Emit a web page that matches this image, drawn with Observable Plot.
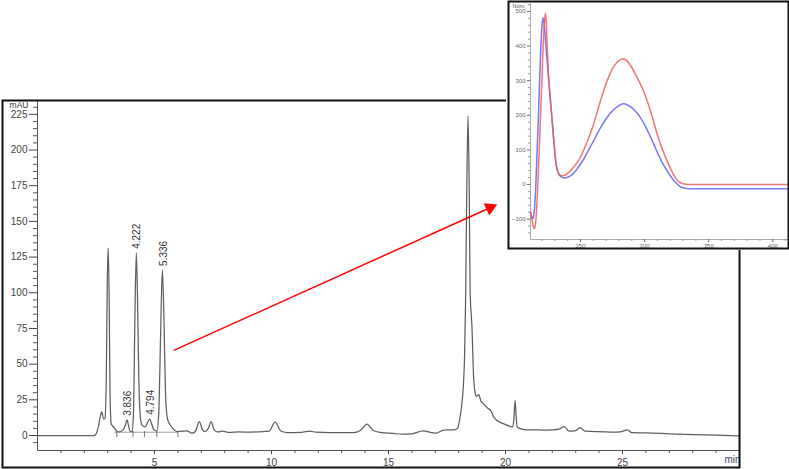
<!DOCTYPE html>
<html>
<head>
<meta charset="utf-8">
<script src="https://cdn.jsdelivr.net/npm/d3@7"></script>
<script src="https://cdn.jsdelivr.net/npm/@observablehq/plot@0.6"></script>
<style>
  html, body { margin: 0; padding: 0; background: #fff; }
  #wrap { position: relative; width: 789px; height: 469px; overflow: hidden; background: #fff; }
  #main { position: absolute; left: 0; top: 0; }
  #inset { position: absolute; left: 506px; top: 0; }
  svg { display: block; }
</style>
</head>
<body>
<div id="wrap"><div id="main"></div><div id="inset"></div></div>
<script>
// ---------- Chromatogram (retention time in min, signal in mAU) ----------
const chromTime = [0,1,2,2.4,2.5,2.6,2.68,2.75,2.82,2.88,2.94,2.98,3.02,3.06,3.1,3.15,3.22,3.3,3.4,3.5,
  3.65,3.75,3.83,3.9,3.97,4.04,4.1,4.16,4.222,4.27,4.33,4.4,4.46,4.6,4.7,4.794,4.88,4.98,5.1,5.18,
  5.26,5.336,5.4,5.47,5.55,5.65,5.75,5.97,6.2,6.38,6.6,6.75,6.92,7.05,7.16,7.3,7.42,7.55,7.7,7.9,
  8.2,8.6,9.0,9.5,9.9,10.15,10.4,10.7,11.2,11.64,11.9,12.5,13,13.5,13.8,14.08,14.35,14.7,15.2,15.62,
  16.0,16.47,16.8,17.04,17.3,17.5,17.8,17.95,18.05,18.12,18.2,18.25,18.3,18.35,18.4,18.45,18.49,18.53,18.57,18.63,
  18.7,18.75,18.86,18.95,19.03,19.2,19.39,19.5,19.6,19.8,20.03,20.31,20.36,20.41,20.46,20.5,20.7,20.88,21.3,21.6,
  22,22.3,22.51,22.72,23,23.19,23.4,23.8,24.2,24.57,24.9,25.21,25.4,26,27,28,29,30];
const chromSignal = [0,0,0,0,1,6,13,16.5,11.5,12,40,105,131.5,100,30,8,6.5,5,2.8,2.5,
  4,7,11,6,2.8,3,15,80,128,100,40,12,7.5,6,9,11.7,8,4,3.3,15,
  70,116,85,30,12,8,5.5,2.8,3,3.3,1.6,3,9.8,4,2.8,5,9.8,4,2.5,3,
  2.2,2.5,2.3,2.6,3,9.4,3.2,2,2.2,3,2.3,2,2,2,3.5,8,3.5,2,1.5,0.9,
  1.2,3.3,2.2,1.6,3.5,3.9,3.9,5,12,20,35,55,100,180,224,170,100,86,75,43,
  30,27.4,28.6,24,22.7,19.7,16.9,13,11,9,7.5,6,12,24.6,12,6,4.5,4,4,3.8,
  4,4.5,6.3,3,3.5,5.6,3,2.8,2.6,2.3,2.5,4,2,1.8,1.2,0.6,0.2,-0.3];

// labelled peaks
const peakTimes = [3.83, 4.222, 4.794, 5.336];
const peakHeights = [11, 128, 11.7, 116];
const peakLabels = ["3.836", "4.222", "4.794", "5.336"];

// integration baseline and peak boundaries
const intBaseStart = 3.3, intBaseEnd = 6.02, intBaseLevel = 2.3;
const intBounds = [3.39, 4.08, 4.57, 5.1, 6.0];

// axis ticks
const yMajor = [0, 25, 50, 75, 100, 125, 150, 175, 200, 225];
const yMinor = d3.range(-5, 231, 5).filter(v => v % 25 !== 0);
const xMajor = [5, 10, 15, 20, 25];
const xMinor = d3.range(1, 30).filter(v => v % 5 !== 0);

// red arrow (time, mAU)
const arrowStart = [5.82, 59.6];
const arrowEnd = [19.34, 159.6];

// ---------- UV spectrum inset (wavelength nm, normalised) ----------
const blueWl = [211,212,213,214,215,216,217,218,219,220,220.9,222,223,224,225,226,227,228,229,230,
  231,232,233,234,236,238,240,244,247.4,252,256,260.3,265,270,275,280,283.5,287,290,
  293,297,300,303,307,311,314,317.5,321,324.5,327.8,331,334.3,413];
const blueVal = [-80,-93,-99,-75,-15,80,180,290,390,460,482,450,400,355,310,268,225,180,135,92,
  58,40,30,25,20,19,21,30,45,70,97,127,160,190,213,228,233,229,222,
  211,192,172,150,118,84,62,40,20,4,-6,-10.5,-12,-12];
const redWl = [211,212,213,214,215,216,217,218,219,220,221,222,222.7,223.3,224,225,226,227,228,229,
  230,231,232,233,234,235,236,238,240,245,250,255,260,265,270,275,280,283,286,290,
  294,298,302,306,310,314,318,322,326,330,335,413];
const redVal = [-80,-100,-118,-128,-112,-55,25,115,215,315,410,475,495,470,400,320,265,222,178,134,
  92,58,42,33,28,25,25,27,32,52,79,122,172,235,292,335,358,363,358,338,
  310,280,242,195,143,100,64,32,10,2,0,0];

const insetYMajor = [-100, 0, 100, 200, 300, 400, 500];
const insetYMinor = d3.range(-140, 521, 20).filter(v => v % 100 !== 0);
const insetXMajor = [250, 300, 350, 400];
const insetXMinor = d3.range(220, 411, 10).filter(v => v % 50 !== 0);

// ---------- build ----------
const FONT = "'Liberation Sans', Arial, sans-serif";
const chrom = chromTime.map((t, i) => ({t, v: chromSignal[i]}));
const peaks = peakTimes.map((t, i) => ({t, v: peakHeights[i], label: peakLabels[i]}));
const blue = blueWl.map((w, i) => ({w, a: blueVal[i]}));
const red = redWl.map((w, i) => ({w, a: redVal[i]}));

const main = Plot.plot({
  width: 789, height: 469,
  marginLeft: 37, marginRight: 50, marginTop: 101, marginBottom: 19,
  x: {domain: [0, 30]},
  y: {domain: [-10.5, 234]},
  style: {fontFamily: FONT, background: "#fff", overflow: "visible"},
  marks: [
    Plot.ruleX([0], {stroke: "#555"}),
    Plot.ruleY([-10.5], {stroke: "#555"}),
    Plot.axisY(yMajor, {anchor: "left", tickSize: 8, tickPadding: 2, fontSize: 10, color: "#444", label: null}),
    Plot.axisY(yMinor, {anchor: "left", tickSize: 4, tickFormat: () => "", color: "#555", label: null}),
    Plot.axisX(xMajor, {anchor: "bottom", tickSize: 4, tickPadding: 4, fontSize: 10, color: "#444", label: null}),
    Plot.axisX(xMinor, {anchor: "bottom", tickSize: 3, tickFormat: () => "", color: "#555", label: null}),
    Plot.ruleY([{v: intBaseLevel, t1: intBaseStart, t2: intBaseEnd}], {y: "v", x1: "t1", x2: "t2", stroke: "#888", strokeWidth: 0.8}),
    Plot.ruleX(intBounds, {x: d => d, y1: -1.5, y2: intBaseLevel + 0.5, stroke: "#555", strokeWidth: 0.8}),
    Plot.line(chrom, {x: "t", y: "v", stroke: "#5f5f5f", strokeWidth: 1.25, curve: "monotone-x"}),
    Plot.text(peaks, {x: "t", y: "v", text: "label", rotate: -90, textAnchor: "start", dx: 1, dy: -4, fontSize: 10, fill: "#333"}),
    Plot.link([{x1: arrowStart[0], y1: arrowStart[1], x2: arrowEnd[0], y2: arrowEnd[1]}], {x1: "x1", y1: "y1", x2: "x2", y2: "y2", stroke: "#f00", strokeWidth: 1.5}),
    Plot.dot([{x: arrowEnd[0], y: arrowEnd[1]}], {x: "x", y: "y", symbol: "triangle", r: 5, fill: "#f00", stroke: "none", rotate: 65.7}),
    Plot.text(["mAU"], {frameAnchor: "top-left", text: d => d, textAnchor: "end", dx: -9, dy: 0.5, fontSize: 8.5, fill: "#333"}),
    Plot.text(["min"], {frameAnchor: "bottom-right", text: d => d, textAnchor: "end", dx: 1, dy: 12, fontSize: 10, fill: "#446"}),
    Plot.frame({insetLeft: -35, insetTop: -1, insetBottom: -17, insetRight: 0, stroke: "#111", strokeWidth: 2})
  ]
});
document.getElementById("main").append(main);

const inset = Plot.plot({
  width: 283, height: 250,
  marginLeft: 24, marginRight: 0, marginTop: 3, marginBottom: 11,
  x: {domain: [211, 413]},
  y: {domain: [-159, 523]},
  style: {fontFamily: FONT, background: "#fff", overflow: "visible"},
  marks: [
    Plot.ruleX([211], {stroke: "#aaa"}),
    Plot.ruleY([-159], {stroke: "#aaa"}),
    Plot.axisY(insetYMajor, {anchor: "left", tickSize: 3, tickPadding: 2, fontSize: 6, color: "#666", label: null}),
    Plot.axisY(insetYMinor, {anchor: "left", tickSize: 2, tickFormat: () => "", color: "#999", label: null}),
    Plot.axisX(insetXMajor, {anchor: "bottom", tickSize: 3, tickPadding: 1, fontSize: 6, color: "#666", label: null}),
    Plot.axisX(insetXMinor, {anchor: "bottom", tickSize: 2, tickFormat: () => "", color: "#999", label: null}),
    Plot.line(blue, {x: "w", y: "a", stroke: "#6060ee", strokeWidth: 1.5, strokeOpacity: 0.85, curve: "monotone-x"}),
    Plot.line(red, {x: "w", y: "a", stroke: "#f05e5e", strokeWidth: 1.5, strokeOpacity: 0.85, curve: "monotone-x"}),
    Plot.text(["Nom."], {frameAnchor: "top-left", text: d => d, textAnchor: "start", dx: -18, dy: 0.5, fontSize: 5.5, fill: "#555"}),
    Plot.frame({insetLeft: -22, insetTop: -2, insetBottom: -9, insetRight: 1, stroke: "#111", strokeWidth: 2})
  ]
});
document.getElementById("inset").append(inset);
</script>
</body>
</html>
